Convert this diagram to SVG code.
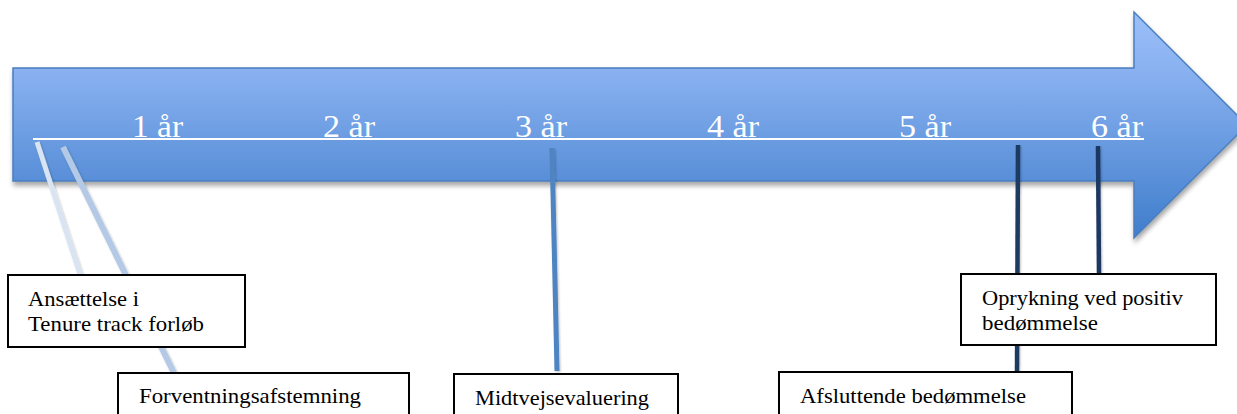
<svg xmlns="http://www.w3.org/2000/svg" width="1237" height="414" viewBox="0 0 1237 414">
  <defs>
    <linearGradient id="arrowFill" x1="0" y1="0" x2="0" y2="1">
      <stop offset="0" stop-color="#9bbff8"/>
      <stop offset="0.25" stop-color="#8ab2f1"/>
      <stop offset="1" stop-color="#3f7dcb"/>
    </linearGradient>
    <filter id="shadow" x="-5%" y="-10%" width="110%" height="130%">
      <feGaussianBlur in="SourceAlpha" stdDeviation="2.5"/>
      <feOffset dx="1" dy="4" result="blur"/>
      <feComponentTransfer><feFuncA type="linear" slope="0.35"/></feComponentTransfer>
      <feMerge><feMergeNode/><feMergeNode in="SourceGraphic"/></feMerge>
    </filter>
    <filter id="lineShadow" x="-50%" y="-5%" width="200%" height="110%">
      <feGaussianBlur in="SourceAlpha" stdDeviation="1.2"/>
      <feOffset dx="1" dy="1"/>
      <feComponentTransfer><feFuncA type="linear" slope="0.25"/></feComponentTransfer>
      <feMerge><feMergeNode/><feMergeNode in="SourceGraphic"/></feMerge>
    </filter>
  </defs>
  <style>
    .year { font-family: "Liberation Serif", "DejaVu Serif", serif; font-size: 32px; fill: #ffffff; }
    .label { font-family: "Liberation Serif", "DejaVu Serif", serif; font-size: 22px; fill: #000000; }
    .box { fill: #ffffff; stroke: #000000; stroke-width: 2; }
    .conn { fill: none; stroke-linecap: butt; }
  </style>

  <!-- timeline arrow -->
  <g id="timeline">
    <polygon points="13,68 1134,68 1134,12 1247,125 1134,238 1134,181 13,181" fill="url(#arrowFill)" stroke="#4a7ebf" stroke-width="1.5" filter="url(#shadow)"/>
    <line x1="33" y1="139" x2="1144" y2="139" stroke="#ffffff" stroke-width="2"/>
    <text class="year" x="132" y="137" textLength="51" lengthAdjust="spacingAndGlyphs">1 år</text>
    <text class="year" x="323" y="137" textLength="52" lengthAdjust="spacingAndGlyphs">2 år</text>
    <text class="year" x="515" y="137" textLength="52" lengthAdjust="spacingAndGlyphs">3 år</text>
    <text class="year" x="707" y="137" textLength="52" lengthAdjust="spacingAndGlyphs">4 år</text>
    <text class="year" x="899" y="137" textLength="52" lengthAdjust="spacingAndGlyphs">5 år</text>
    <text class="year" x="1091" y="137" textLength="52" lengthAdjust="spacingAndGlyphs">6 år</text>
  </g>

  <!-- connectors from the timeline to the milestones -->
  <g id="connectors" filter="url(#lineShadow)">
    <line class="conn" x1="37" y1="142" x2="81" y2="277" stroke="#d9e4f3" stroke-width="5"/>
    <line class="conn" x1="63" y1="147" x2="174" y2="373" stroke="#b4c9e5" stroke-width="6"/>
    <line class="conn" x1="552" y1="148" x2="557" y2="371" stroke="#4f84c2" stroke-width="5"/>
    <line class="conn" x1="1018" y1="145" x2="1017" y2="373" stroke="#1f3b60" stroke-width="4.5"/>
    <line class="conn" x1="1098" y1="146" x2="1099" y2="274" stroke="#1a3862" stroke-width="4.5"/>
  </g>

  <g id="node-ansaettelse">
    <rect class="box" x="8" y="275" width="237" height="72"/>
    <text class="label" x="28" y="306" textLength="111" lengthAdjust="spacingAndGlyphs">Ansættelse i</text>
    <text class="label" x="28" y="331" textLength="176" lengthAdjust="spacingAndGlyphs">Tenure track forløb</text>
  </g>

  <g id="node-forventning">
    <rect class="box" x="118" y="373" width="291" height="60"/>
    <text class="label" x="139" y="403" textLength="222" lengthAdjust="spacingAndGlyphs">Forventningsafstemning</text>
  </g>

  <g id="node-midtvejs">
    <rect class="box" x="454" y="374" width="224" height="60"/>
    <text class="label" x="475" y="405" textLength="174" lengthAdjust="spacingAndGlyphs">Midtvejsevaluering</text>
  </g>

  <g id="node-afsluttende">
    <rect class="box" x="779" y="372" width="293" height="60"/>
    <text class="label" x="800" y="403" textLength="226" lengthAdjust="spacingAndGlyphs">Afsluttende bedømmelse</text>
  </g>

  <g id="node-oprykning">
    <rect class="box" x="961" y="274" width="255" height="71"/>
    <text class="label" x="982" y="305" textLength="201" lengthAdjust="spacingAndGlyphs">Oprykning ved positiv</text>
    <text class="label" x="982" y="330" textLength="116" lengthAdjust="spacingAndGlyphs">bedømmelse</text>
  </g>
</svg>
